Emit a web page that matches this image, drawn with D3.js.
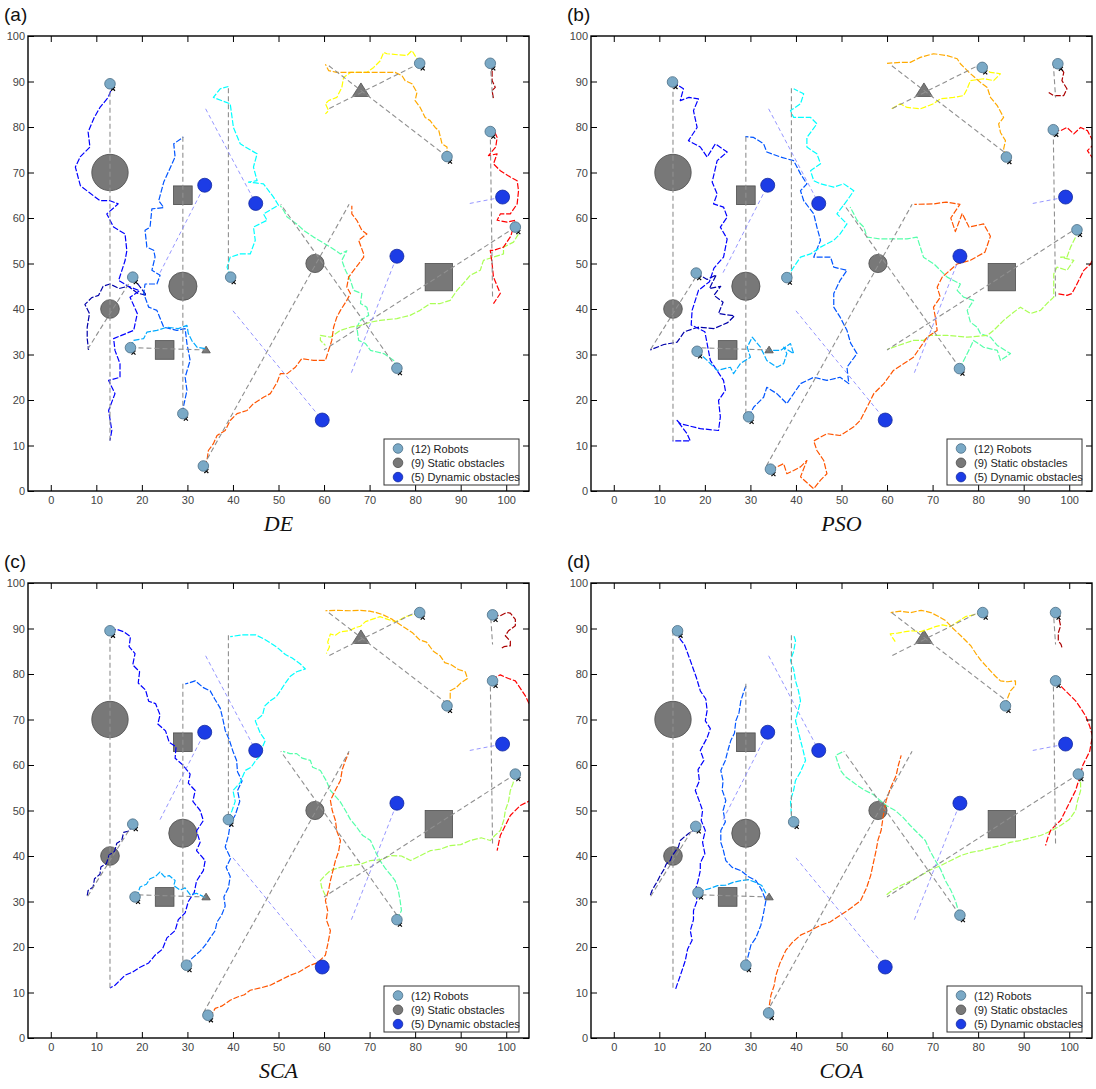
<!DOCTYPE html>
<html>
<head>
<meta charset="utf-8">
<script src="https://cdn.jsdelivr.net/npm/d3@7"></script>
<style>
  body { margin: 0; background: #fff; }
  svg { display: block; }
</style>
</head>
<body>
<svg id="chart" width="1096" height="1089"></svg>
<script>
// ---- data ----
const panelLabels = ["(a)", "(b)", "(c)", "(d)"];
const algorithms = ["DE", "PSO", "SCA", "COA"];
const xTicks = [0, 10, 20, 30, 40, 50, 60, 70, 80, 90, 100];
const yTicks = [0, 10, 20, 30, 40, 50, 60, 70, 80, 90, 100];

// jet(12), one per robot
const robotColors = ["#0000aa", "#0000ff", "#0055ff", "#00aaff", "#00ffff", "#55ffaa",
                     "#aaff55", "#ffff00", "#ffaa00", "#ff5500", "#ff0000", "#aa0000"];
const robotStarts = [[18,47],[13,89.5],[29,17],[17.5,31.5],[39,47],[76,27],
                     [102,58],[81,94],[87,73.5],[33.5,5.5],[96.5,79],[96.5,94]];
const robotGoals = [[8,31],[13,11],[29,78],[34,31],[39,89],[50.5,63],
                    [60,31],[61,84],[61,93.5],[65.5,63],[97,42.5],[97,86.5]];

const staticShapes = ["circle","circle","circle","circle","square","square","square","triangle","triangle"];
const staticCenters = [[13,70],[13,40],[29,45],[58,50],[29,65],[25,31],[85.2,47],[68.1,88.2],[34.1,31.1]];
const staticSizes = [4, 2.05, 3.1, 2, 2.05, 2.05, 3, 1.85, 0.92];

const dynamicPositions = [[33.8,67.2],[45,63.2],[76,51.6],[59.6,15.6],[99.2,64.6]];
const dynamicTrailStarts = [[24,48],[34,84],[66,26],[40,39.6],[92,63.2]];

const pathsDE = [
  [[18,47],[19.5,45],[21,43],[19,43.5],[17,45],[15,44.5],[13,45.5],[11.5,45],[10.5,43],[9,42.5],[7.5,41],[8.5,39],[8,36],[8,33.5],[8.3,31]],
  [[13,89.5],[13.4,88.5],[12.6,86.5],[10.8,84.3],[9.5,82],[8.2,78.9],[8.6,75.6],[6.5,73.5],[5.4,71.2],[6.5,67.1],[8.3,65.7],[10.8,63.8],[13,63.8],[14.8,63.1],[12.3,60.9],[13.8,58],[16.3,56.5],[16.7,52.8],[16.3,50.6],[14.9,46.3],[17,45],[19.5,44],[17.4,42.6],[19,39],[18.2,35.3],[13.8,33.5],[14.1,30.9],[15.2,28],[15.2,25],[12.7,24.3],[14.1,21.4],[12.7,17.7],[13.4,13.3],[13,11.1]],
  [[29,17],[29.1,18.4],[29.9,22.1],[29.5,25],[30.6,28.7],[29.9,32.4],[29.5,35.7],[27.7,35.3],[24.8,36],[23.3,39.7],[21.5,40.4],[20.4,43.4],[20.7,45.5],[23.3,45.5],[24,47.4],[22.2,48.5],[22.9,51.4],[22.6,52.9],[21.1,53.6],[20.7,57.3],[21.8,58],[22.2,62],[24.8,62.3],[23.7,63.8],[24.8,67.9],[27.3,73.4],[27,76.3],[29.1,77.8]],
  [[17.5,31.5],[18.2,33.1],[20.4,33.5],[21.1,34.9],[23.3,35.3],[25.5,36],[28,35.7],[29.9,36.4],[30.2,34.6],[31,33],[32.1,31.6],[33.9,31.3]],
  [[39.5,47],[38.7,49.2],[39.4,51.4],[41.6,52.1],[43.8,52.1],[44.9,55.1],[44.5,58],[47.5,59.5],[46.7,60.9],[50,62.8],[48.9,64.6],[46.7,67.5],[43.4,67.9],[45.3,68.2],[44.5,71.2],[45.3,74.1],[41.6,76.3],[40.1,79.9],[39.4,85.1],[35.7,86.5],[37.2,88.4],[39,88.9]],
  [[76,27],[75.3,28.7],[73.1,30.2],[70.2,30.9],[69.1,32.4],[67.6,33.1],[67.2,36],[68,37.5],[69.8,38.6],[69.4,40.4],[68,41.2],[68.3,43.4],[66.5,44.1],[65.8,46.3],[64.7,48.5],[63.9,50.7],[65,52.8],[63.6,52.1],[61.4,53.6],[57.7,55.8],[55.5,57.3],[54,58.7],[51.9,60.2],[51.1,61.7],[50.4,62.7]],
  [[102,58],[102.7,56.5],[101.6,54.7],[99.4,53.6],[99.4,52.1],[97.5,51.5],[95,50.7],[94.3,48.5],[92.1,47.4],[90.5,45.5],[89.2,44.1],[87.7,41.9],[85.5,41.2],[83.3,41.2],[81.1,39.7],[78.9,38.6],[76,37.9],[72.3,37.5],[70.2,37.1],[68,36.4],[65.8,36],[63.6,35.3],[61.4,33.8],[59.2,34.2],[59.2,33.1],[60.3,32]],
  [[81,94],[80.4,95],[79.3,96.8],[78.2,95.7],[73.8,96.1],[73.1,96.4],[72.3,94.5],[70.9,93.1],[69.4,92],[65.8,92],[64.3,90.9],[63.9,88.7],[62.8,86.5],[61,85.8],[60.3,85.1],[61,83.6],[60.3,82.9]],
  [[87,73.5],[87,75.6],[85.9,76.3],[85.2,79.2],[84.4,79.9],[83.3,81.4],[82.2,82.1],[81.1,84.3],[80,85.8],[80.4,87.6],[79.3,89.5],[77.8,90.2],[77.1,91.3],[75.6,92],[71.6,92],[68,92],[65.4,92],[62.8,92],[61,92.4],[60.3,93.8]],
  [[33.5,5.5],[34.3,6.7],[34.6,8.9],[35.7,10.4],[36.5,12.2],[38.3,13.3],[39.4,15.5],[40.9,17],[43.1,17.7],[44.5,19.2],[46.7,20.6],[48.2,21.4],[49.7,23.9],[50.4,25.8],[51.9,25.8],[53.7,27.2],[55.1,29.1],[57.7,28.7],[60.3,28.7],[61,30.9],[61.7,33.1],[62.1,36],[62.8,38.2],[63.6,39.7],[65,41.9],[65.8,43.4],[65,44.8],[65.4,47],[66.5,48.5],[67.6,49.9],[68.7,51.4],[68.7,52.1],[67.6,55.1],[69.4,56.5],[68.3,57.3],[67.2,59.5],[66.1,60.9],[66.1,62.7]],
  [[96.5,79],[97.2,79.6],[98,77.7],[97.7,75.6],[96.1,73.7],[98,74.1],[97.2,71.9],[98.7,70.4],[100.9,69],[102.4,68.2],[102.7,66],[102.4,63.1],[100.9,60.9],[98.7,60.9],[98,59.5],[100.2,59.1],[102,59.5],[101,56],[99.4,53.6],[97.2,52.9],[96.5,52.9],[96.9,49.9],[97.2,47],[98.7,43.4],[97.2,41.2]],
  [[96.5,94],[96.9,92.8],[96.9,90.2],[97.6,88.7],[96.9,88],[97.2,86.2]]
];

const pathsPSO = [
  [[18.1,47.9],[20.5,46.5],[22.5,47.5],[21,44.5],[23.5,45],[22,43],[24,41.5],[23,39],[26.5,38.5],[25,37],[22,35.7],[18.5,36],[15.5,35],[13.9,32.7],[11,32.2],[8,31]],
  [[12.9,89.9],[15.3,88.4],[14.6,85.8],[16.5,86.5],[18.6,86.2],[17.5,83.6],[18.3,79.9],[16.4,77],[19,75.6],[20.5,73.4],[22.3,76.3],[24.9,74.5],[22.7,72.6],[21.6,67.9],[22.7,65.3],[21.9,63.1],[24.1,62.4],[24.9,60.2],[23.4,58],[24.9,55.4],[24.1,51.4],[22,49],[21,46],[18.6,44.1],[17.2,39.7],[17,36.5],[20,35],[21.2,28.7],[24.1,24.3],[24.5,22.1],[23,19.9],[23.4,16.3],[23,13.3],[19,13.7],[14.6,14.8],[13.9,15.5],[16.1,12.6],[16.8,11],[12.9,11]],
  [[29.6,16.3],[30.7,18.4],[32.9,20.6],[33.6,22.8],[35.8,21.4],[38,19.2],[41,23.6],[43.9,25],[46.8,24.3],[49.7,25],[51.6,23.6],[51.2,27.2],[53.4,30.2],[52,32.5],[51.2,35.3],[49.7,38.2],[48.3,40.4],[48.3,43.4],[49.7,46.3],[51.2,48.5],[48.3,49.2],[47.6,51.4],[43.9,51.4],[45.4,55.1],[44.6,58],[43.9,60.9],[41.7,63.8],[41,66],[42.4,67.5],[41,69.7],[39.5,72.6],[36.6,73.4],[33.6,74.5],[32.9,76.3],[30.7,77.7],[28.9,77.9]],
  [[18.3,30.7],[20.5,28.7],[22.7,26.5],[25.6,27.2],[26.3,25.8],[27.8,28],[30,29.4],[29.3,31.6],[30.4,33.8],[32.2,31.6],[33.6,28.7],[35.8,27.2],[37.3,28],[38,30.2],[37.3,31.6],[39.5,30.2],[38.8,32.4],[36.6,30.9],[34.4,30.9]],
  [[38,46.9],[39.5,49.2],[41,51.4],[43.2,52.1],[45.4,53.6],[48.3,55.1],[49.7,56.5],[51.2,58.7],[49,60.9],[51.2,63.8],[52.7,66],[50.5,67.5],[48.3,66.8],[45.4,67.5],[43.9,68.2],[43.2,70.4],[45.4,71.9],[44.6,74.1],[42.4,75.6],[42.4,77.7],[44.6,80.7],[43.2,82.1],[39.5,82.1],[38.8,83.6],[41,85.1],[41.7,87.3],[39.5,88.4]],
  [[75.9,26.9],[77.2,29.4],[78.3,31.6],[79,33.1],[81.2,31.6],[84.2,30.9],[84.9,28.7],[87.1,30.2],[84.2,32],[82.7,33.8],[80.5,34.6],[79.8,36],[78.3,37.1],[77.6,39.7],[79,41.9],[76.8,42.6],[75.4,44.1],[76.1,45.5],[73.2,47],[71.7,48.5],[70.3,49.9],[68,51.4],[66.6,55.8],[64.4,55.4],[62.9,55.4],[58.6,55.4],[55.6,55.8],[54.9,58],[53.4,59.5],[52.7,60.9],[51.9,62.4]],
  [[101.7,57.4],[101.4,55.8],[100.3,53.6],[99.5,51.4],[98.1,51.4],[101,50.7],[99.5,48.5],[97.3,49.2],[96.6,47.7],[96.6,42.6],[95.1,41.2],[93.7,39.7],[91.5,39],[89.3,40.4],[87.8,39.3],[85.6,37.5],[83.4,35.3],[82,34.2],[77.6,33.8],[73.2,34.2],[69.5,34.2],[68,33.1],[65.8,33.1],[63.7,32.4],[61.4,31.6],[60,31.1]],
  [[80.9,93.1],[82.7,92],[84.9,91.7],[83.4,90.2],[81.2,90.6],[78.3,90.2],[77.6,88.4],[76.8,86.9],[74.6,86.5],[71.7,86.2],[70.2,85.1],[67.3,84],[64.4,84.3],[62.9,85.1],[61,84]],
  [[86.2,73.4],[85.6,75.2],[86,77],[84.9,78.8],[84.5,80.7],[85.6,82.1],[84.2,84.7],[82.7,86.5],[82,88.7],[80.5,89.8],[78,92],[76.1,93.9],[75.4,95],[73.2,95.7],[70.2,96.1],[67.3,95.3],[65.1,94.2],[62.9,94.2],[60,94]],
  [[34.4,4.8],[35.8,5.3],[37.3,6],[38,3.8],[39.5,4.5],[41,5.3],[42.4,6.7],[41,3.1],[43.9,0.5],[45.4,2.4],[46.8,3.8],[46.1,6.7],[44.6,8.9],[43.9,11],[46.8,12.6],[49.7,12.2],[52.7,14.1],[54.1,15.5],[55.6,18.4],[57.1,21.4],[59.3,23.6],[61.4,26.5],[63.7,28],[65.8,29.4],[67.3,31.6],[68.8,33.8],[71,35.3],[70.6,38.2],[70.2,40.4],[71.7,42.6],[71,44.8],[72.1,47],[75.4,49.9],[78.3,50.7],[81.5,52.5],[82.7,56],[81.2,58.7],[78,58],[76.5,61],[75,57],[74,60],[76,63],[73,63.5],[70.2,63.1],[66,63]],
  [[96.5,79.4],[98.1,79.2],[99.5,79.9],[101,78.5],[102.5,79.9],[104,79.2],[105.5,76.3],[104,74.8],[106,71.9],[107,60],[105.5,52],[104.7,49.9],[103.2,48.5],[101.7,45.5],[100.6,43.4],[99.5,43],[97.3,43.4]],
  [[97.5,93.9],[98.8,92],[98.4,90.2],[99.5,88.4],[98.8,86.9],[96.6,86.9],[95.5,87.6]]
];

const pathsSCA = [
  [[18,47],[17.2,45.5],[16,45.2],[15.6,43.5],[14.5,42.8],[14,41],[12.8,40.2],[12.2,38.3],[11,37.6],[10.8,36],[9.6,35],[9.3,33.2],[8.2,32.4],[8,31.3]],
  [[13,89.5],[14.5,89.8],[16,89.3],[17.5,88.2],[17.2,86],[18.5,84.5],[18,82],[19.5,80.5],[19.2,78],[20.8,76.5],[21.5,74],[23,73.5],[24,71],[23.5,69],[25.2,67.5],[26,65],[27.5,64],[27.3,61.5],[29,60],[30.6,58],[30.2,56],[31.7,54.4],[31.2,52],[32.8,50],[33.5,47.8],[32,45.5],[32.8,43],[32,41.2],[33.9,39],[33.5,36.8],[32,34.5],[31.5,32],[30.2,30],[29.5,27.5],[28,26],[27.3,23.6],[25.5,22],[24.5,19.5],[22.9,18.2],[21.5,16.5],[19.5,15.5],[18,14.5],[16.3,13.8],[15,12.5],[14.1,11.6],[13,11]],
  [[29.8,16],[31,17.5],[32.8,19.1],[34,20.5],[35,22],[36.1,23.6],[36.5,25.5],[37.5,27],[38.3,29],[38,31],[39,33],[39.4,35.5],[38.5,37.5],[39.5,39.5],[38.3,42],[39,44.5],[39.4,47],[40.5,49],[41.5,52],[41,54.4],[42,56.5],[41,58.5],[40.8,61],[40,63],[39.2,65.5],[38.3,67.6],[37.8,70],[37.2,72.5],[36,74.5],[35,76.3],[33.5,77],[31.7,78.5],[30.2,78],[29.5,77.8]],
  [[18.5,31],[19.2,32],[19.6,33.2],[21,33.8],[21.8,35],[23,35.5],[24,36.5],[25,35.4],[26,35.7],[27.3,34.6],[27,33.5],[28.4,32.5],[29.5,33],[30.6,31.5],[32,31.8],[33.9,30.9]],
  [[39,48],[39.8,50],[40.5,52],[40,54.4],[41.5,56],[42.7,58.8],[44,59.5],[45,61],[46,62],[46.5,64],[47.1,65.4],[46,67],[44.9,69.7],[46.5,71],[47,73],[48.2,74.1],[49.5,75],[50.4,76.3],[51.5,78],[52.6,79.5],[54,80.5],[55.9,81.1],[54.8,82.2],[53,83.5],[51.5,84.3],[49.5,86],[47,87.6],[45,88.6],[42,88.6],[39.4,88.2]],
  [[76,26],[77,28],[76.7,30.2],[76.3,32.5],[75.6,34.6],[74.5,36],[73.5,37.2],[72.3,39],[71.5,40.5],[70.2,43.4],[68.5,44.5],[66.9,46.7],[65.8,48],[64.7,50],[63.5,52],[61.4,54.4],[60.5,56.5],[59.2,58.8],[57.5,59.5],[57,61],[55.2,61.5],[54,62.5],[52.5,62.5],[51,63]],
  [[102,58],[101.5,56],[100.9,54.4],[100.5,52],[99.8,50],[99.5,48],[98.7,45.6],[97.5,44.5],[96.5,43.4],[94.5,44],[92.1,43.4],[90,42.5],[87.7,42.3],[85.5,41.5],[83.4,41.2],[81,40],[79,39],[77,40],[74.6,40.1],[72.5,39.2],[70.2,39],[68,38.2],[65.8,37.9],[63.5,37.5],[61.4,36.8],[60,35.5],[59.2,34.6],[59.5,33],[60.3,31.3]],
  [[81,93.5],[79.5,93],[77.8,92.6],[76.5,91.8],[75.6,91.5],[74,92],[72.3,92.6],[70.5,92],[69.1,91.5],[68,90.5],[66.9,90.2],[65.5,89.5],[63.6,89.3],[62.5,88.5],[61.4,88.8],[60.8,87],[61.2,86],[60.5,84.5]],
  [[87,73],[87.7,74.5],[87.7,76.3],[89,77],[90,78],[91.5,79],[91,80.5],[89.5,81],[88,82],[86.5,82.5],[85.5,84],[84,85],[82.5,87],[81,87.5],[79.5,89],[78,90],[76.5,91],[75,92],[73,93],[71.5,93.5],[70,93.8],[68,94],[65.8,93.9],[63,94],[60.3,93.9]],
  [[34.5,5],[35.5,5.5],[36.1,6.5],[37.5,7],[39.4,8.3],[41,9],[42.5,9.5],[43.8,10.5],[46,11],[48.2,11.6],[50,12.5],[52.6,13.8],[54.5,14.5],[57,16],[58.5,16.5],[60.3,18.2],[60.8,20.5],[61.4,23.6],[60.5,26],[60.8,28],[60.3,30.2],[61,32.5],[61.4,34.6],[62,37],[62.5,39],[63.2,41],[63.6,43.4],[62.8,45.5],[62.5,47.8],[61.8,50],[61.4,52.2],[62.5,54.5],[63.6,56.6],[64,59],[64.7,61],[65.4,62.7]],
  [[97,78.5],[98,79.5],[98.7,79.8],[100.5,79],[102,78.5],[103,77],[104.2,75.2],[105,73.5],[105.5,71.9],[106.5,66],[106,58],[105.3,52.2],[103.1,51.1],[100.9,48.9],[99.8,46.7],[98.7,44.5],[98,41.2]],
  [[97,93],[98.7,92.8],[100,93.5],[100.9,93.4],[102,92],[102,90.6],[100.5,89.5],[99.8,88.4],[100.9,87.2],[100.9,86.2],[99.5,86],[98.7,85.5]]
];

const pathsCOA = [
  [[18,46.5],[17.3,45.5],[16.5,45],[15.5,44.2],[14.6,43.4],[14.2,42],[13.5,41],[12.8,40],[12.4,39],[11.5,38.2],[11,37],[10.2,35.7],[9.6,34.5],[9,33.5],[8.4,32.4],[8,31.3]],
  [[14,89.5],[14.6,87.6],[15.5,86.5],[16.8,83],[17.5,81],[18.2,79],[19,76.3],[20.2,74.5],[20.5,72],[20.1,69.7],[21.2,68],[20.5,66],[19,63.2],[19.8,61],[18.5,59],[18.8,56.5],[17.9,54.4],[18.8,52],[19.5,50],[19.2,47.8],[20.1,45.6],[19.5,43],[20,40.5],[19,38.5],[19,36.8],[18.5,34.5],[17.9,32.5],[18.3,30.2],[17.5,28],[17.5,26],[16.8,23.6],[17.2,21.5],[16.2,19.5],[15.7,17],[15.2,15.5],[14.6,13.7],[14,12],[13.5,10.5]],
  [[29,16],[29.5,18],[30.1,20.4],[31.2,22],[32.3,24.8],[32.8,27],[33.4,30.2],[32.5,32.5],[31.2,34.6],[29.5,35.5],[27.9,36.8],[26,37.5],[24.6,39],[24,41.5],[23.5,43],[23.5,45.6],[24.5,47.5],[24,50],[24.6,52.2],[23.8,54.5],[24,56.5],[23.5,58.8],[24.5,61],[25,63],[25.7,65.4],[26.5,67],[26.8,69.7],[27.5,71.5],[27.9,74.1],[28.5,76],[29,77.4]],
  [[18.5,32],[19.8,32.5],[21.2,32.9],[22.8,33.5],[24.6,33.6],[26.2,34.2],[27.9,34.6],[29.5,34.8],[31.2,34.2],[32.5,33.5],[33.4,31.8]],
  [[39.5,47.5],[39,49],[38.8,52.2],[39.5,54.5],[39.9,56.6],[41,58.5],[42.1,61],[41.5,63.5],[41,65.4],[40.5,67.5],[39.9,69.7],[40.5,72],[41,74.1],[40.5,76.5],[39.9,78.5],[39.5,81],[38.8,83],[39.5,85],[39.9,87.3],[39.5,88.6]],
  [[76,27],[75.5,28.5],[75,30.2],[74,32.5],[72.8,34.6],[71.8,37],[70.6,39],[69.5,41],[68.4,43.4],[66.8,45],[65.1,46.7],[63.5,48.5],[61.8,50],[60,51],[58.5,52.2],[57,53.5],[55.2,54.4],[53.5,55.5],[52,56.6],[50.8,57.5],[49.8,58.8],[49.2,60.5],[48.7,62.1],[50.5,63]],
  [[102,58],[102.5,56],[102.5,54.4],[101.8,52],[101.4,50],[100,48],[98.1,46.7],[96,45.5],[93.7,44.5],[91.5,44],[89.3,43.4],[87,43],[85,42.3],[82.8,41.8],[80.6,41.2],[78.4,40.8],[76.2,40.1],[74,39],[71.8,37.9],[69.6,37],[67.4,35.7],[65.2,34.5],[63,33.5],[61.2,32.5],[59.7,31.3]],
  [[81,93.5],[79,93],[77.2,92.6],[75.5,91.5],[73.9,90.4],[72.2,90.8],[70.6,90.4],[69,89.8],[67.3,89.3],[65.6,89.5],[64,89.3],[62.3,89],[60.7,88.8],[61.2,88],[61.8,87.1]],
  [[86,73],[86.5,74.8],[87.1,76.3],[88.2,77.5],[88.2,78.5],[86.5,78.3],[84.9,78.5],[83.8,79.5],[82.7,80.7],[81.7,81.8],[80.6,83],[79.5,84.5],[78.4,86.2],[77.3,87.3],[76.2,88.4],[74.5,90],[72.9,91.7],[71.2,92.7],[69.6,93.5],[67.5,94],[65.2,93.5],[63,93.8],[60.8,93.5]],
  [[34,5.5],[34.2,7.5],[34.5,9.4],[35.2,11.5],[35.6,13.8],[36.5,16.5],[37.8,19.3],[39.2,21],[41,22.6],[43,23.5],[45.4,24.8],[47.5,25.5],[49.8,27],[52,28.5],[54.2,30.2],[55.5,33],[56.4,35.7],[57,38.5],[57.6,41.2],[58,43.5],[58.7,45.6],[59.2,49],[59.8,52.2],[60.8,55],[62,57.7],[62.5,60],[63.1,62.1]],
  [[97,78.5],[98,77.5],[99.2,76.3],[100.3,75.2],[101.4,74.1],[102.5,72.5],[103.6,70.8],[104.5,68.5],[105.1,66.4],[104.5,63],[103,60],[102.2,57],[101.4,54.4],[100.2,52],[99.2,50],[98.1,47.8],[97,46.8],[95.9,45.6],[95.3,44],[94.8,42.3]],
  [[97,93.5],[97.8,92],[98.1,90.6],[97.6,89],[97.6,87.3],[98.2,86.5],[98.5,85.5]]
];

const allPaths = [pathsDE, pathsPSO, pathsSCA, pathsCOA];
const legendLabels = ["(12) Robots", "(9) Static obstacles", "(5) Dynamic obstacles"];

// ---- layout ----
const plotW = 501, plotH = 455;
const origins = [[28, 36], [591, 36], [28, 583], [591, 583]];
const sans = "'Liberation Sans', Arial, Helvetica, sans-serif";
const robotFill = "#7aa9c6", robotStroke = "#4a6d85";
const staticFill = "#787878", staticStroke = "#4d4d4d";
const dynFill = "#1c3ce6", dynStroke = "#142a9e";

const x = d3.scaleLinear().domain([-5, 105]).range([0, plotW]);
const y = d3.scaleLinear().domain([0, 100]).range([plotH, 0]);
const line = d3.line().x(d => x(d[0])).y(d => y(d[1]));

const svg = d3.select("#chart");

origins.forEach((o, p) => {
  const g = svg.append("g").attr("transform", "translate(" + o[0] + "," + o[1] + ")");

  g.append("clipPath").attr("id", "clip" + p)
    .append("rect").attr("width", plotW).attr("height", plotH);

  const plot = g.append("g").attr("clip-path", "url(#clip" + p + ")");

  // static obstacles
  staticShapes.forEach((s, i) => {
    const cx = x(staticCenters[i][0]), cy = y(staticCenters[i][1]);
    const r = x(staticSizes[i]) - x(0);
    let el;
    if (s === "circle") {
      el = plot.append("circle").attr("cx", cx).attr("cy", cy).attr("r", r);
    } else if (s === "square") {
      el = plot.append("rect").attr("x", cx - r).attr("y", cy - r).attr("width", 2 * r).attr("height", 2 * r);
    } else {
      const h = 1.6 * r;
      el = plot.append("path").attr("d", "M" + cx + "," + (cy - h / 2) + "L" + (cx - r) + "," + (cy + h / 2) + "L" + (cx + r) + "," + (cy + h / 2) + "Z");
    }
    el.attr("fill", staticFill).attr("stroke", staticStroke).attr("stroke-width", 0.8);
  });

  // robot paths
  allPaths[p].forEach((path, i) => {
    plot.append("path")
      .attr("d", line(path))
      .attr("fill", "none")
      .attr("stroke", robotColors[i])
      .attr("stroke-width", 1.2)
      .attr("stroke-dasharray", "6,1.8")
      .attr("stroke-linejoin", "round");
  });

  // start-goal reference lines
  robotStarts.forEach((s, i) => {
    plot.append("line")
      .attr("x1", x(s[0])).attr("y1", y(s[1]))
      .attr("x2", x(robotGoals[i][0])).attr("y2", y(robotGoals[i][1]))
      .attr("stroke", "#8f8f8f").attr("stroke-width", 1.1)
      .attr("stroke-dasharray", "5,3");
  });

  // dynamic obstacle trails
  dynamicPositions.forEach((d, i) => {
    plot.append("line")
      .attr("x1", x(dynamicTrailStarts[i][0])).attr("y1", y(dynamicTrailStarts[i][1]))
      .attr("x2", x(d[0])).attr("y2", y(d[1]))
      .attr("stroke", "#8a8aff").attr("stroke-width", 0.9)
      .attr("stroke-dasharray", "4,3");
  });

  // robots with small x marks
  allPaths[p].forEach(path => {
    const rx = x(path[0][0]), ry = y(path[0][1]);
    plot.append("path")
      .attr("d", "M" + (rx + 1) + "," + (ry + 3) + "l4,4M" + (rx + 5) + "," + (ry + 3) + "l-4,4")
      .attr("stroke", "#000").attr("stroke-width", 1.2);
    plot.append("circle")
      .attr("cx", rx).attr("cy", ry).attr("r", 5.3)
      .attr("fill", robotFill).attr("stroke", robotStroke).attr("stroke-width", 0.8);
  });

  // dynamic obstacles
  plot.selectAll(".dyn").data(dynamicPositions).enter().append("circle")
    .attr("cx", d => x(d[0])).attr("cy", d => y(d[1])).attr("r", 7)
    .attr("fill", dynFill).attr("stroke", dynStroke).attr("stroke-width", 0.8);

  // axes (ticks inside on all four sides)
  const ax = [
    d3.axisBottom(x).tickValues(xTicks).tickSize(-6).tickSizeOuter(0).tickPadding(5),
    d3.axisLeft(y).tickValues(yTicks).tickSize(-6).tickSizeOuter(0).tickPadding(3),
    d3.axisTop(x).tickValues(xTicks).tickSize(-6).tickSizeOuter(0).tickFormat(""),
    d3.axisRight(y).tickValues(yTicks).tickSize(-6).tickSizeOuter(0).tickFormat("")
  ];
  const trans = ["translate(0," + plotH + ")", null, null, "translate(" + plotW + ",0)"];
  ax.forEach((a, k) => {
    const ag = g.append("g").attr("transform", trans[k]).call(a);
    ag.select(".domain").remove();
    ag.selectAll("line").attr("stroke", "#000").attr("stroke-width", 1);
    ag.selectAll("text").attr("fill", "#444").style("font-family", sans).style("font-size", "11px");
  });

  g.append("rect").attr("width", plotW).attr("height", plotH)
    .attr("fill", "none").attr("stroke", "#000").attr("stroke-width", 1.4);

  // legend
  const lg = g.append("g").attr("transform", "translate(" + (plotW - 145) + "," + (plotH - 52) + ")");
  lg.append("rect").attr("width", 135).attr("height", 46)
    .attr("fill", "#fff").attr("stroke", "#333").attr("stroke-width", 1);
  const lf = [robotFill, staticFill, dynFill];
  const ls = [robotStroke, staticStroke, dynStroke];
  legendLabels.forEach((t, i) => {
    lg.append("circle").attr("cx", 14).attr("cy", 9.5 + i * 14.3).attr("r", 4.8)
      .attr("fill", lf[i]).attr("stroke", ls[i]).attr("stroke-width", 0.8);
    lg.append("text").attr("x", 27).attr("y", 13.5 + i * 14.3)
      .style("font-family", sans).style("font-size", "11px").attr("fill", "#222").text(t);
  });

  // panel label and algorithm title
  g.append("text").attr("x", -24).attr("y", -15)
    .style("font-family", sans).style("font-size", "19px").attr("fill", "#111")
    .text(panelLabels[p]);
  g.append("text").attr("x", plotW / 2).attr("y", plotH + 40).attr("text-anchor", "middle")
    .style("font-family", "'Liberation Serif', 'Times New Roman', serif")
    .style("font-style", "italic").style("font-size", "22px").attr("fill", "#111")
    .text(algorithms[p]);
});
</script>
</body>
</html>
